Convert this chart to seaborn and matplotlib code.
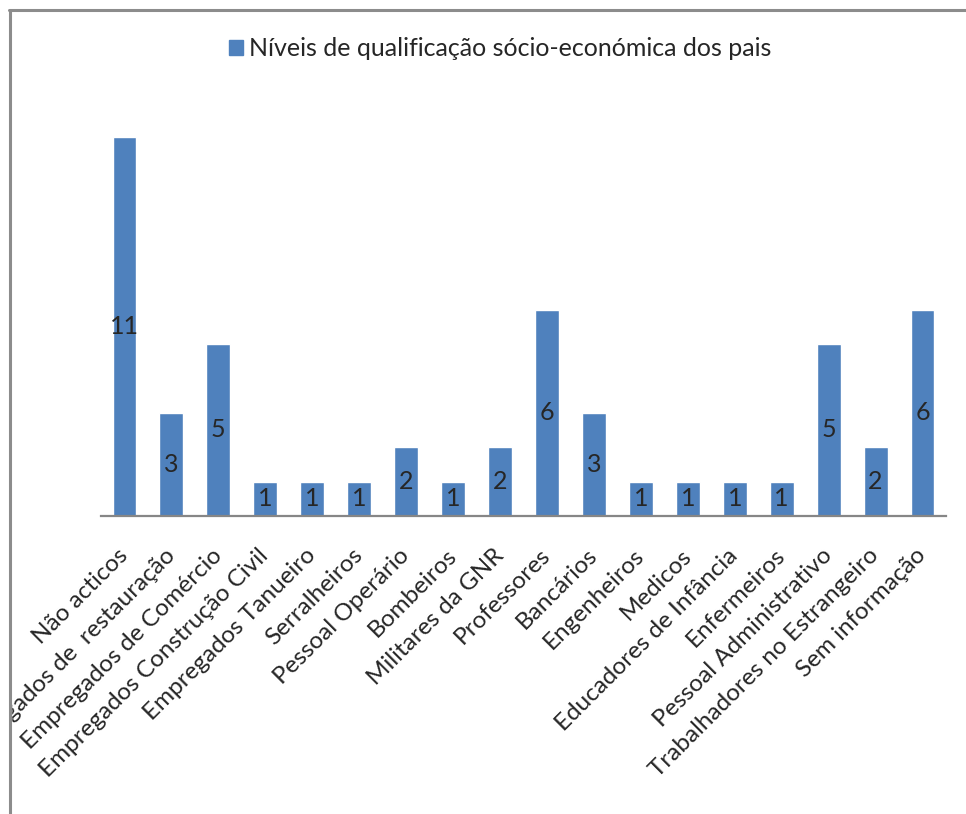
import pandas as pd
import matplotlib
matplotlib.use('Agg')
import matplotlib.pyplot as plt
from matplotlib.patches import Rectangle, Patch
from matplotlib.lines import Line2D
import seaborn as sns

## data

categorias = ['Não acticos', 'Empregados de  restauração', 'Empregados de Comércio',
              'Empregados Construção Civil', 'Empregados Tanueiro', 'Serralheiros',
              'Pessoal Operário', 'Bombeiros', 'Militares da GNR', 'Professores',
              'Bancários', 'Engenheiros', 'Medicos', 'Educadores de Infância',
              'Enfermeiros', 'Pessoal Administrativo', 'Trabalhadores no Estrangeiro',
              'Sem informação']
valores = [11, 3, 5, 1, 1, 1, 2, 1, 2, 6, 3, 1, 1, 1, 1, 5, 2, 6]
serie = 'Níveis de qualificação sócio-económica dos pais'

df = pd.DataFrame({'categoria': categorias, 'valor': valores})

sns.set_style('white')
plt.rcParams['font.family'] = ['Lato', 'DejaVu Sans']

azul = '#4F81BD'
cinza = '#868686'

fig = plt.figure(figsize=(9.66, 8.14), dpi=100)
ax = fig.add_axes([101 / 966, 298 / 814, 845 / 966, 413 / 814])

sns.barplot(x='categoria', y='valor', data=df, color=azul, width=0.51,
            saturation=1, ax=ax)
ax.bar_label(ax.containers[0], label_type='center', fontsize=18)

ax.set_ylim(0, 12)
ax.set_xlim(-0.5, len(categorias) - 0.5)
ax.set_xlabel('')
ax.set_ylabel('')
ax.set_yticks([])
for s in ['top', 'right', 'left']:
    ax.spines[s].set_visible(False)
ax.spines['bottom'].set_color(cinza)
ax.spines['bottom'].set_linewidth(1.6)
ax.tick_params(axis='x', length=0, pad=26)
plt.setp(ax.get_xticklabels(), rotation=45, ha='right', va='center',
         rotation_mode='anchor', fontsize=17.5)

ax.legend(handles=[Patch(color=azul, label=serie)], loc='center',
          bbox_to_anchor=(500 / 966, 765 / 814), bbox_transform=fig.transFigure,
          frameon=False, fontsize=18, handlelength=0.55, handleheight=0.55,
          handletextpad=0.25)

# chart frame (left and top edges), labels clipped at the frame
fig.add_artist(Rectangle((0, 0), 11 / 966, 1, transform=fig.transFigure,
                         color='white', zorder=10))
fig.add_artist(Line2D([9.5 / 966, 9.5 / 966], [0, 1 - 9.5 / 814],
                      transform=fig.transFigure, color='#8c8c8c', lw=2.2, zorder=11))
fig.add_artist(Line2D([8.5 / 966, 1], [1 - 9.5 / 814, 1 - 9.5 / 814],
                      transform=fig.transFigure, color='#8c8c8c', lw=2.2, zorder=11))

plt.savefig('out.png', dpi=100)
